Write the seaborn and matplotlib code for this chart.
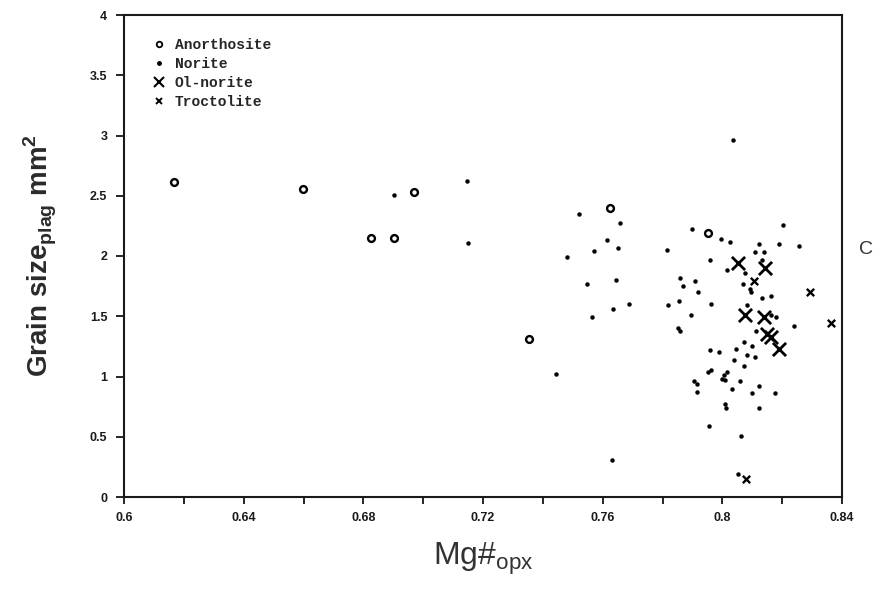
import numpy as np
import pandas as pd
import matplotlib
matplotlib.use("Agg")
import matplotlib.pyplot as plt
from matplotlib.lines import Line2D
import seaborn as sns

sns.set_style("white")
plt.rcParams['font.family'] = ['Liberation Sans', 'DejaVu Sans']
plt.rcParams['mathtext.fontset'] = 'custom'
plt.rcParams['mathtext.rm'] = 'Liberation Sans'
plt.rcParams['mathtext.bf'] = 'Liberation Sans:bold'

# ---- data (Mg# opx, plagioclase grain size mm^2) ----
anor_x = [0.6167, 0.6598, 0.6824, 0.6904, 0.6969, 0.7355, 0.7625, 0.7953]
anor_y = [2.61, 2.56, 2.15, 2.15, 2.53, 1.31, 2.40, 2.19]

norite_x = [0.6902, 0.7146, 0.7149, 0.7522, 0.7658, 0.7616, 0.7651, 0.7572, 0.7481, 0.7645,
            0.7546, 0.7689, 0.7633, 0.7566, 0.7444, 0.7630, 0.7900, 0.7995, 0.8025, 0.7814,
            0.7959, 0.8015, 0.8202, 0.8123, 0.8189, 0.8255, 0.8109, 0.8140, 0.8134, 0.8076,
            0.8070, 0.8091, 0.8096, 0.7859, 0.7907, 0.7868, 0.7920, 0.8132, 0.8164, 0.7856,
            0.7820, 0.7962, 0.8083, 0.7896, 0.8180, 0.8164, 0.8239, 0.7851, 0.7860, 0.8114,
            0.8071, 0.8100, 0.7958, 0.7990, 0.8045, 0.8083, 0.8109, 0.8038, 0.8073, 0.7951,
            0.7962, 0.8015, 0.8006, 0.7998, 0.8010, 0.8059, 0.7906, 0.7915, 0.7915, 0.8031,
            0.8123, 0.8100, 0.8176, 0.8008, 0.8013, 0.8121, 0.7956, 0.8063, 0.8053, 0.8036]
norite_y = [2.51, 2.62, 2.11, 2.35, 2.27, 2.13, 2.07, 2.04, 1.99, 1.80,
            1.77, 1.60, 1.56, 1.49, 1.02, 0.31, 2.22, 2.14, 2.12, 2.05,
            1.97, 1.88, 2.26, 2.10, 2.10, 2.08, 2.03, 2.03, 1.97, 1.86,
            1.77, 1.73, 1.70, 1.82, 1.79, 1.75, 1.70, 1.65, 1.67, 1.63,
            1.59, 1.60, 1.59, 1.51, 1.49, 1.51, 1.42, 1.40, 1.38, 1.38,
            1.29, 1.25, 1.22, 1.20, 1.23, 1.18, 1.16, 1.14, 1.09, 1.04,
            1.05, 1.04, 1.01, 0.98, 0.97, 0.96, 0.96, 0.94, 0.87, 0.90,
            0.92, 0.86, 0.86, 0.77, 0.74, 0.74, 0.59, 0.51, 0.19, 2.96]

olnor_x = [0.8053, 0.8142, 0.8076, 0.8138, 0.8148, 0.8164, 0.8190]
olnor_y = [1.94, 1.90, 1.51, 1.49, 1.35, 1.33, 1.23]

troct_x = [0.8107, 0.8293, 0.8363, 0.8079]
troct_y = [1.79, 1.70, 1.44, 0.15]

x_ticks = [0.6, 0.64, 0.68, 0.72, 0.76, 0.8, 0.84]
x_labels = ["0.6", "0.64", "0.68", "0.72", "0.76", "0.8", "0.84"]
y_ticks = [0, 0.5, 1, 1.5, 2, 2.5, 3, 3.5, 4]
y_labels = ["0", "0.5", "1", "1.5", "2", "2.5", "3", "3.5", "4"]

fig = plt.figure(figsize=(8.77, 5.91), dpi=100)
ax = fig.add_axes([124/877, 1-497/591, (842-124)/877, (497-15)/591])

sns.scatterplot(x=norite_x, y=norite_y, ax=ax, marker='o', s=8, color='black',
                edgecolor='black', linewidth=0.3, zorder=3)
sns.scatterplot(x=anor_x, y=anor_y, ax=ax, marker='o', s=24, facecolor='white',
                edgecolor='black', linewidth=1.7, zorder=4)
sns.scatterplot(x=olnor_x, y=olnor_y, ax=ax, marker='x', s=90, color='black',
                linewidth=2.0, zorder=5)
sns.scatterplot(x=troct_x, y=troct_y, ax=ax, marker='x', s=28, color='black',
                linewidth=1.7, zorder=5)

ax.set_xlim(0.6, 0.84)
ax.set_ylim(0, 4)
ax.set_xticks(x_ticks)
ax.set_xticklabels(x_labels)
ax.set_xticks(np.arange(0.62, 0.84, 0.04), minor=True)
ax.set_yticks(y_ticks)
ax.set_yticklabels(y_labels)
ax.tick_params(axis='both', which='both', direction='out', color='black', width=1.2)
ax.tick_params(axis='y', length=6, labelsize=9, pad=6)
ax.tick_params(axis='x', which='both', length=5, labelsize=9, pad=6)
for lab in ax.get_xticklabels() + ax.get_yticklabels():
    lab.set_fontweight('bold')
    lab.set_color('#1a1a1a')
ax.xaxis.set_ticks_position('bottom')
ax.yaxis.set_ticks_position('left')
for sp in ax.spines.values():
    sp.set_visible(True)
    sp.set_color('#1a1a1a')
    sp.set_linewidth(1.5)

ax.set_xlabel(r"Mg#$_{\mathrm{opx}}$", fontsize=23, color='#333333', labelpad=12)
ax.set_ylabel(r"Grain size$_{\mathbf{plag}}$ mm$^{\mathbf{2}}$", fontsize=20,
              fontweight='bold', color='#2a2a2a', labelpad=22)

handles = [
    Line2D([], [], linestyle='none', marker='o', markersize=4, markerfacecolor='white',
           markeredgecolor='black', markeredgewidth=1.3),
    Line2D([], [], linestyle='none', marker='o', markersize=2.5, color='black'),
    Line2D([], [], linestyle='none', marker='x', markersize=7, color='black', markeredgewidth=1.5),
    Line2D([], [], linestyle='none', marker='x', markersize=5, color='black', markeredgewidth=1.4),
]
labels = ["Anorthosite", "Norite", "Ol-norite", "Troctolite"]
leg = ax.legend(handles, labels, loc='upper left', bbox_to_anchor=(0.022, 0.98),
                frameon=False, handlelength=0.8, handletextpad=0.7, labelspacing=0.35,
                prop={'family': 'Liberation Mono', 'weight': 'bold', 'size': 10.5})

fig.text(866/877, 1-249/591, "C", fontsize=14, color='#333333', ha='center', va='center')

fig.savefig("out.png", dpi=100, facecolor='white')
